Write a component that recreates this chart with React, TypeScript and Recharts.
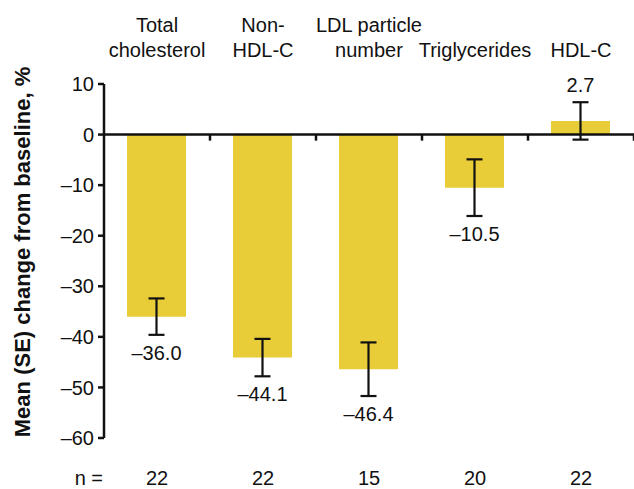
import React from 'react';
import { BarChart, Bar, XAxis, YAxis, ErrorBar, LabelList, ReferenceLine, Label } from 'recharts';

const categories = ['Total\ncholesterol', 'Non-\nHDL-C', 'LDL particle\nnumber', '\nTriglycerides', '\nHDL-C'];
const meanChange = [-36.0, -44.1, -46.4, -10.5, 2.7];
const standardError = [3.6, 3.7, 5.3, 5.6, 3.7];
const sampleSize = [22, 22, 15, 20, 22];
const yTicks = [10, 0, -10, -20, -30, -40, -50, -60];
const categoryBoundaries = [1, 2, 3, 4, 5];

const data = categories.map((c, i) => ({
  pos: i + 0.5,
  category: c,
  value: meanChange[i],
  se: standardError[i],
  n: sampleSize[i],
}));
const centers = data.map((d) => d.pos);

const INK = '#111';
const BAR = '#E8CD38';
const FONT = '"Liberation Sans", Arial, Helvetica, sans-serif';

const dash = (s: string) => s.replace('-', '\u2013');
const fmtInt = (v: number) => dash(String(v));
const fmtVal = (v: number) => dash(v.toFixed(1));

const catIndex = (v: number) => Math.round(v - 0.5);

const CategoryTick = (props: any) => {
  const { x, payload } = props;
  const lines = categories[catIndex(payload.value)].split('\n');
  return (
    <g>
      <text x={x} y={32} textAnchor="middle" fontSize={20} fill={INK}>{lines[0]}</text>
      <text x={x} y={57} textAnchor="middle" fontSize={20} fill={INK}>{lines[1]}</text>
    </g>
  );
};

const NTick = (props: any) => {
  const { x, payload } = props;
  return (
    <text x={x} y={485} textAnchor="middle" fontSize={20} fill={INK}>
      {sampleSize[catIndex(payload.value)]}
    </text>
  );
};

const ValueLabel = (props: any) => {
  const vb = props.viewBox && props.viewBox.width !== undefined ? props.viewBox : props;
  const x = Number(vb.x);
  const y = Number(vb.y);
  const w = Number(vb.width);
  const h = Number(vb.height);
  const value = Number(props.value);
  let idx = props.index;
  if (idx === undefined || idx === null) idx = meanChange.indexOf(value);
  const top = Math.min(y, y + h);
  const bottom = Math.max(y, y + h);
  const ppu = Math.abs(h) / Math.abs(value);
  const errPx = standardError[idx] * ppu;
  const cx = x + w / 2;
  const ly = value < 0 ? bottom + errPx + 25 : top - errPx - 10;
  return (
    <text x={cx} y={ly} textAnchor="middle" fontSize={20} fill={INK}>
      {fmtVal(value)}
    </text>
  );
};

export default function App() {
  return (
    <div style={{ position: 'absolute', left: 0, top: 0, width: 634, height: 489, background: '#fff', fontFamily: FONT }}>
      <BarChart
        width={634}
        height={489}
        data={data}
        margin={{ top: 14, right: 0, bottom: 0, left: 0 }}
        style={{ fontFamily: FONT }}
      >
        <XAxis
          dataKey="pos"
          type="number"
          domain={[0, 5]}
          ticks={centers}
          interval={0}
          axisLine={false}
          tickLine={false}
          height={51}
          tick={<NTick />}
        >
          <Label
            content={() => (
              <text x={103} y={485} textAnchor="end" fontSize={20} fill={INK}>n =</text>
            )}
          />
        </XAxis>
        <XAxis
          xAxisId="top"
          orientation="top"
          dataKey="pos"
          type="number"
          domain={[0, 5]}
          ticks={centers}
          interval={0}
          axisLine={false}
          tickLine={false}
          height={70}
          tick={<CategoryTick />}
        />
        <YAxis
          type="number"
          domain={[-60, 10]}
          ticks={yTicks}
          interval={0}
          width={104}
          axisLine={{ stroke: INK, strokeWidth: 2.5 }}
          tickLine={{ stroke: INK, strokeWidth: 2.5 }}
          tickSize={6}
          tickMargin={4}
          tick={{ fill: INK, fontSize: 20 }}
          tickFormatter={fmtInt}
        >
          <Label
            content={() => (
              <text
                x={22}
                y={252}
                transform="rotate(-90, 22, 252)"
                textAnchor="middle"
                dominantBaseline="central"
                fontSize={22}
                fontWeight="bold"
                fill={INK}
              >
                Mean (SE) change from baseline, %
              </text>
            )}
          />
        </YAxis>
        <Bar dataKey="value" fill={BAR} barSize={59} isAnimationActive={false}>
          <ErrorBar dataKey="se" width={8} strokeWidth={2.2} stroke={INK} direction="y" />
          <LabelList dataKey="value" content={<ValueLabel />} />
        </Bar>
        <ReferenceLine y={0} stroke={INK} strokeWidth={2.5} />
        {categoryBoundaries.map((b) => (
          <ReferenceLine
            key={b}
            segment={[{ x: b, y: 0 }, { x: b, y: -1.2 }]}
            stroke={INK}
            strokeWidth={2.5}
          />
        ))}
      </BarChart>
    </div>
  );
}
